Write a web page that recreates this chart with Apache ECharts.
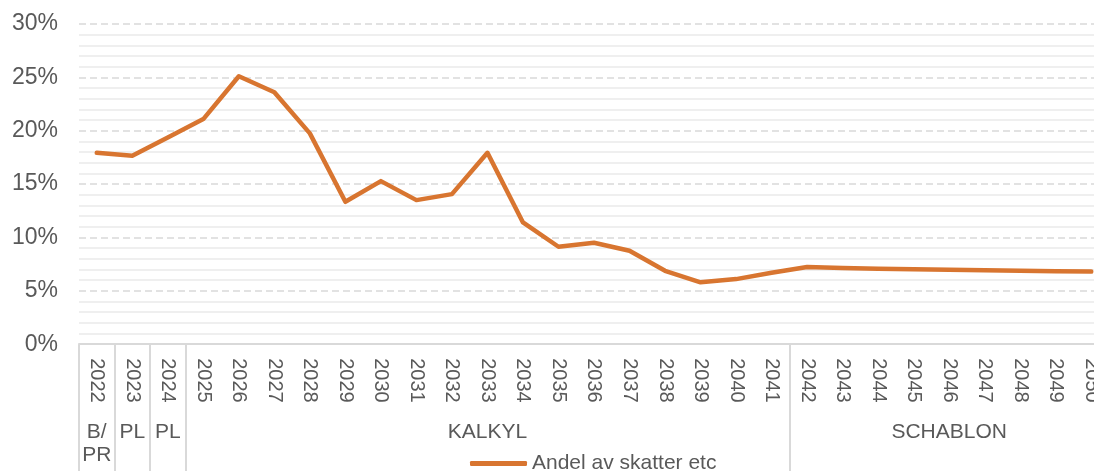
<!DOCTYPE html>
<html>
<head>
<meta charset="utf-8">
<script src="https://cdn.jsdelivr.net/npm/echarts@6/dist/echarts.min.js"></script>
<style>
  html, body { margin: 0; padding: 0; background: #fff; overflow: hidden; }
  /* the plot runs past the right edge of the picture, so the canvas is wider than the window */
  #chart { width: 1109px; height: 471px; }
</style>
</head>
<body>
<div id="chart"></div>
<script>
const years = [
  "2022", "2023", "2024", "2025", "2026", "2027", "2028", "2029", "2030", "2031",
  "2032", "2033", "2034", "2035", "2036", "2037", "2038", "2039", "2040", "2041",
  "2042", "2043", "2044", "2045", "2046", "2047", "2048", "2049", "2050",
]
// Andel av skatter etc, in percent
const shareValues = [
  17.93, 17.65, 19.37, 21.09, 25.1, 23.6, 19.75, 13.34, 15.28, 13.5,
  14.06, 17.93, 11.41, 9.13, 9.5, 8.75, 6.88, 5.8, 6.1, 6.7,
  7.23, 7.15, 7.08, 7.02, 6.97, 6.92, 6.88, 6.84, 6.8,
]
const groupNames = ["B/\nPR", "PL", "PL", "KALKYL", "SCHABLON"]
const groupFirst = ["2022", "2023", "2024", "2025", "2042"]
const groupLast = ["2022", "2023", "2024", "2041", "2050"]
const yTicks = [0, 5, 10, 15, 20, 25, 30]

const textColor = "#595959"
const fontFamily = '"Liberation Sans", Arial, sans-serif'

const myChart = echarts.init(document.getElementById("chart"))

// separators sit on the left edge of the first category of each group
const boundaryIndex = groupFirst.map((y) => years.indexOf(y))

const option = {
  animation: false,
  grid: {
    left: 79,
    right: 0,
    top: 24,
    bottom: 126.8,
  },
  legend: {
    left: 465,
    top: 448,
    icon: "roundRect",
    itemWidth: 57,
    itemHeight: 5,
    textStyle: { color: textColor, fontSize: 21, fontFamily: fontFamily },
    data: ["Andel av skatter etc"],
  },
  xAxis: {
    type: "category",
    data: years,
    boundaryGap: true,
    axisLine: { lineStyle: { color: "#d9d9d9", width: 2 } },
    axisTick: {
      show: true,
      length: 127,
      interval: function (index) {
        return boundaryIndex.indexOf(index) >= 0
      },
      lineStyle: { color: "#d9d9d9", width: 2 },
    },
    axisLabel: {
      interval: 0,
      rotate: -90,
      margin: 14,
      color: textColor,
      fontSize: 20,
      fontFamily: fontFamily,
    },
    splitLine: { show: false },
  },
  yAxis: {
    type: "value",
    min: yTicks[0],
    max: yTicks[yTicks.length - 1],
    interval: 5,
    axisLine: { show: false },
    axisTick: { show: false },
    axisLabel: {
      formatter: (v) => v + "%",
      margin: 21,
      color: textColor,
      fontSize: 23,
      fontFamily: fontFamily,
    },
    splitLine: {
      show: true,
      lineStyle: { color: "#d9d9d9", width: 1.5, type: [7, 4] },
    },
    minorTick: { show: false, splitNumber: 5 },
    minorSplitLine: {
      show: true,
      lineStyle: { color: "#efefef", width: 2 },
    },
  },
  series: [
    {
      name: "Andel av skatter etc",
      type: "line",
      data: shareValues,
      showSymbol: false,
      symbol: "none",
      lineStyle: { color: "#D87530", width: 4.5, cap: "round", join: "round" },
      itemStyle: { color: "#D87530" },
    },
  ],
}

myChart.setOption(option)

// group labels under the year labels, centred on each group's span
const groupText = groupNames.map((name, i) => {
  const x0 = myChart.convertToPixel({ xAxisIndex: 0 }, groupFirst[i])
  const x1 = myChart.convertToPixel({ xAxisIndex: 0 }, groupLast[i])
  return {
    type: "text",
    x: (x0 + x1) / 2,
    y: 421,
    style: {
      text: name,
      textAlign: "center",
      textVerticalAlign: "top",
      fill: textColor,
      font: "21px " + fontFamily,
      lineHeight: 23,
    },
  }
})

myChart.setOption({ graphic: groupText })
</script>
</body>
</html>
